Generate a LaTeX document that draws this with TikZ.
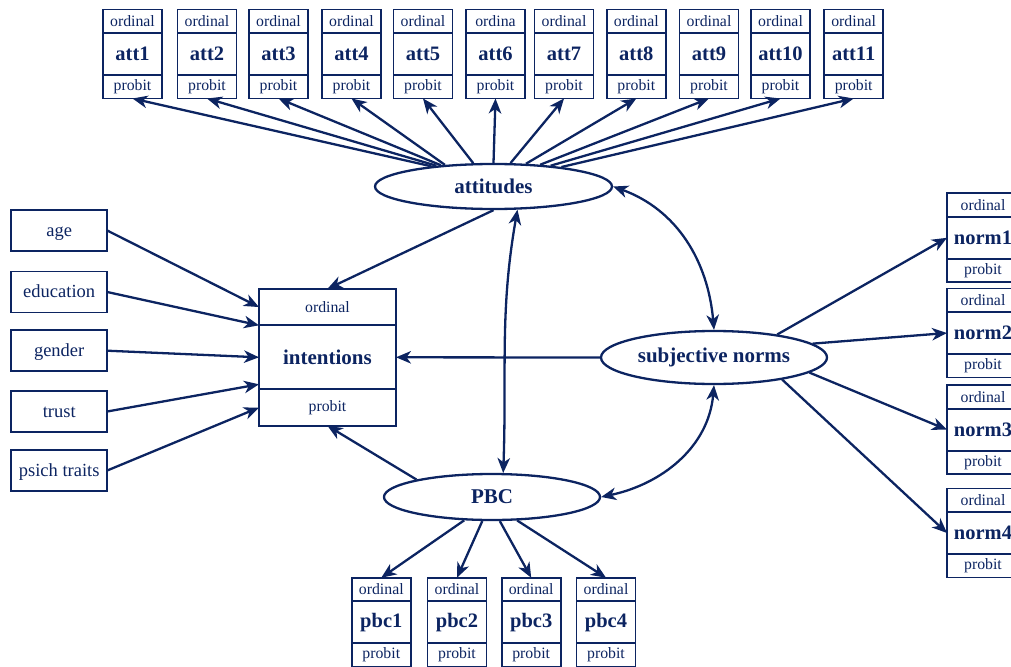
\documentclass[tikz,border=0pt]{standalone}
\usepackage{fontspec}
\setmainfont{Liberation Serif}
\usepackage{xcolor}
\usepackage{tikz}
\usetikzlibrary{positioning,shapes.geometric,arrows.meta}

\definecolor{semblue}{RGB}{12,36,97}

\tikzset{
    band/.style={draw, line width=1.8pt,
        inner sep=0pt, outer sep=0pt,
        minimum width=59pt, minimum height=23.5pt,
        font=\fontsize{15.8}{16}\selectfont},
    obsmid/.style={band, minimum height=42pt,
        font=\bfseries\fontsize{20.5}{21}\selectfont},
    covar/.style={draw, line width=1.8pt,
        inner sep=0pt, outer sep=0pt,
        minimum width=96pt, minimum height=41pt,
        text height=14pt, text depth=3pt,
        font=\fontsize{18.5}{19}\selectfont},
    latent/.style={draw, ellipse, line width=2.3pt, inner sep=0pt,
        font=\bfseries\fontsize{21}{22}\selectfont},
    link/.style={-{Stealth[length=15pt,width=12.5pt,inset=4.5pt]}, line width=2.3pt},
    dlink/.style={{Stealth[length=15pt,width=12.5pt,inset=4.5pt]}-{Stealth[length=15pt,width=12.5pt,inset=4.5pt]}, line width=2.3pt},
}

% ordinal item: name, x, y, top text, label
\newcommand{\ordbox}[6][]{%
    \node [obsmid,#1] (#2) at (#3,#4) {#6};
    \node [band,#1, above=0pt of #2] (#2-top) {#5};
    \node [band,#1, below=0pt of #2] (#2-bot) {probit};
}

\begin{document}
\begin{tikzpicture}[x=1pt, y=1pt, color=semblue]
    \useasboundingbox (0,0) rectangle (1011,-666);
    \clip (0,0) rectangle (1011,-666);

    % latent variables
    \node [latent, minimum width=237pt, minimum height=45pt]
        (attitudes) at (493.5,-186.5) {attitudes};
    \node [latent, minimum width=226pt, minimum height=53pt]
        (norms) at (714,-357.5) {subjective norms};
    \node [latent, minimum width=216pt, minimum height=46pt]
        (pbc) at (492,-497) {PBC};

    % intentions
    \node [obsmid, minimum width=137pt, minimum height=64pt,
        font=\bfseries\fontsize{21}{22}\selectfont,
    ] (intentions) at (327.5,-357.3) {intentions};
    \node [band, minimum width=137pt, minimum height=36.5pt,
        above=0pt of intentions] (intentions-top) {ordinal};
    \node [band, minimum width=137pt, minimum height=36.5pt,
        below=0pt of intentions] (intentions-bot) {probit};

    % covariates
    \node [covar] (age) at (59.2,-230.5) {age};
    \node [covar] (education) at (59.2,-292) {education};
    \node [covar] (gender) at (59.2,-350.7) {gender};
    \node [covar] (trust) at (59.2,-411.5) {trust};
    \node [covar] (traits) at (59.2,-470.5) {psich traits};

    % attitude items
    \foreach \nm/\xx/\tp in {att1/132.5/ordinal, att2/207/ordinal,
        att3/278.5/ordinal, att4/351.5/ordinal, att5/423/ordinal,
        att6/495.5/ordina, att7/564/ordinal, att8/636.3/ordinal,
        att9/709/ordinal, att10/780.5/ordinal, att11/853.7/ordinal}
        \ordbox{\nm}{\xx}{-54}{\tp}{\nm};

    % norm items
    \ordbox[minimum width=72pt]{norm1}{983}{-237.8}{ordinal}{norm1}
    \ordbox[minimum width=72pt]{norm2}{983}{-333}{ordinal}{norm2}
    \ordbox[minimum width=72pt]{norm3}{983}{-429.7}{ordinal}{norm3}
    \ordbox[minimum width=72pt]{norm4}{983}{-533}{ordinal}{norm4}

    % pbc items
    \ordbox{pbc1}{381.3}{-622.2}{ordinal}{pbc1}
    \ordbox{pbc2}{457}{-622.2}{ordinal}{pbc2}
    \ordbox{pbc3}{531.2}{-622.2}{ordinal}{pbc3}
    \ordbox{pbc4}{606}{-622.2}{ordinal}{pbc4}

    % measurement paths
    \foreach \nm/\ang in {att1/162, att2/160, att3/158, att4/156,
        att5/131, att6/90, att7/54, att8/35, att9/25, att10/20, att11/16.5}
        \draw [link] (attitudes.\ang) -- (\nm-bot.south);
    \foreach \nm/\ang in {norm1/20, norm2/8, norm3/-9, norm4/-18}
        \draw [link] (norms.\ang) -- (\nm.west);
    \foreach \nm/\ang in {pbc1/-140, pbc2/-112, pbc3/-72, pbc4/-43}
        \draw [link] (pbc.\ang) -- (\nm-top.north);

    % structural paths
    \draw [link] (age.east) -- (intentions-top.west);
    \draw [link] (education.east) -- (intentions.north west);
    \draw [link] (gender.east) -- (intentions.west);
    \draw [link] (trust.east) -- ([yshift=5pt]intentions.south west);
    \draw [link] (traits.east) -- (intentions-bot.west);
    \draw [link] (attitudes.south) -- (intentions-top.north);
    \draw [link] (norms.west) -- (intentions.east);
    \draw [link] (pbc.167) -- (intentions-bot.south);

    % covariances
    \draw [dlink] (attitudes.east) to[out=-20, in=95] (norms.north);
    \draw [dlink] (norms.south) to[out=-95, in=12] (pbc.east);
    \draw [dlink] (attitudes.-44) to[out=-100, in=88] (pbc.65);
\end{tikzpicture}
\end{document}
